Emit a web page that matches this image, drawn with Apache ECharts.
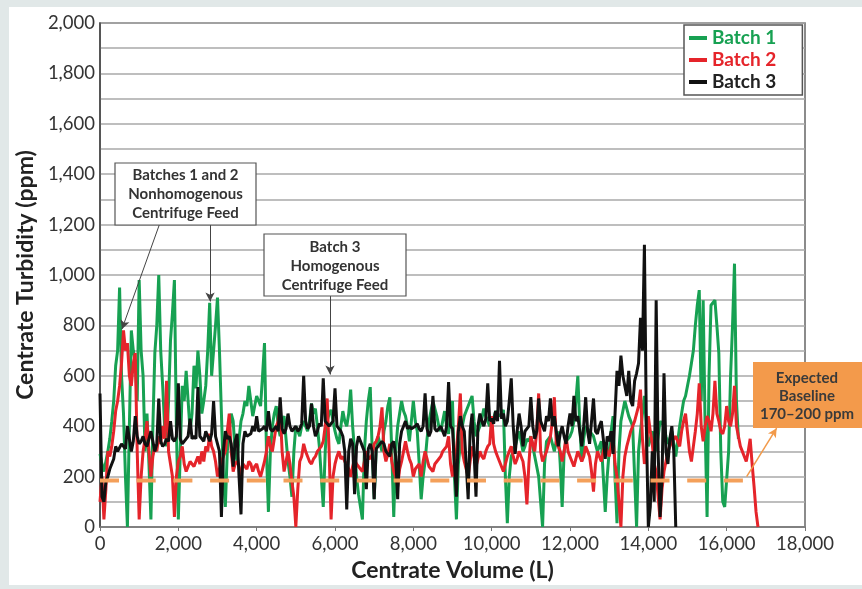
<!DOCTYPE html>
<html><head><meta charset="utf-8">
<script src="https://cdn.jsdelivr.net/npm/echarts@6/dist/echarts.min.js"></script>
<style>html,body{margin:0;padding:0;background:#e1e8e8;}#c{width:862px;height:589px;}</style>
</head><body><div id="c"></div>
<script>
// Centrate volume (L), one reading every 50 L
const volume = [
0,50,100,150,200,250,300,350,400,450,500,550,600,650,700,750,800,850,900,950,
1000,1050,1100,1150,1200,1250,1300,1350,1400,1450,1500,1550,1600,1650,1700,1750,1800,1850,1900,1950,
2000,2050,2100,2150,2200,2250,2300,2350,2400,2450,2500,2550,2600,2650,2700,2750,2800,2850,2900,2950,
3000,3050,3100,3150,3200,3250,3300,3350,3400,3450,3500,3550,3600,3650,3700,3750,3800,3850,3900,3950,
4000,4050,4100,4150,4200,4250,4300,4350,4400,4450,4500,4550,4600,4650,4700,4750,4800,4850,4900,4950,
5000,5050,5100,5150,5200,5250,5300,5350,5400,5450,5500,5550,5600,5650,5700,5750,5800,5850,5900,5950,
6000,6050,6100,6150,6200,6250,6300,6350,6400,6450,6500,6550,6600,6650,6700,6750,6800,6850,6900,6950,
7000,7050,7100,7150,7200,7250,7300,7350,7400,7450,7500,7550,7600,7650,7700,7750,7800,7850,7900,7950,
8000,8050,8100,8150,8200,8250,8300,8350,8400,8450,8500,8550,8600,8650,8700,8750,8800,8850,8900,8950,
9000,9050,9100,9150,9200,9250,9300,9350,9400,9450,9500,9550,9600,9650,9700,9750,9800,9850,9900,9950,
10000,10050,10100,10150,10200,10250,10300,10350,10400,10450,10500,10550,10600,10650,10700,10750,10800,10850,10900,10950,
11000,11050,11100,11150,11200,11250,11300,11350,11400,11450,11500,11550,11600,11650,11700,11750,11800,11850,11900,11950,
12000,12050,12100,12150,12200,12250,12300,12350,12400,12450,12500,12550,12600,12650,12700,12750,12800,12850,12900,12950,
13000,13050,13100,13150,13200,13250,13300,13350,13400,13450,13500,13550,13600,13650,13700,13750,13800,13850,13900,13950,
14000,14050,14100,14150,14200,14250,14300,14350,14400,14450,14500,14550,14600,14650,14700,14750,14800,14850,14900,14950,
15000,15050,15100,15150,15200,15250,15300,15350,15400,15450,15500,15550,15600,15650,15700,15750,15800,15850,15900,15950,
16000,16050,16100,16150,16200,16250,16300,16350,16400,16450,16500,16550,16600,16650,16700,16750,16800
];
// Centrate turbidity (ppm)
const batch1 = [
290,250,220,260,300,350,420,500,640,700,950,600,450,200,0,400,780,700,650,500,
980,700,600,300,450,250,30,400,690,800,1000,700,560,400,320,500,740,850,980,400,
30,300,560,500,620,500,380,450,640,550,700,600,450,500,560,700,890,600,600,800,
910,700,450,200,80,300,380,450,420,300,260,350,420,450,500,480,560,500,440,480,
520,500,480,600,730,300,60,300,400,450,480,400,360,420,440,350,260,200,120,300,
400,380,360,400,420,400,380,420,490,450,470,400,320,200,80,300,420,450,465,420,
380,350,330,400,460,420,400,450,545,400,300,200,130,80,30,300,420,500,555,300,
110,300,360,330,300,380,420,480,515,300,40,300,400,450,500,460,440,400,340,420,
500,420,380,250,110,200,260,350,420,460,500,470,440,400,380,420,460,400,370,450,
500,200,30,250,330,400,440,460,480,500,520,420,360,380,400,430,470,440,420,400,
400,430,460,450,440,450,465,200,15,200,280,300,320,350,380,340,300,320,350,340,
360,320,280,240,200,100,0,250,340,350,360,330,300,340,380,250,80,300,340,350,
360,380,420,500,600,400,260,350,400,390,380,370,360,330,300,320,340,200,60,200,
300,380,440,200,15,300,420,460,500,470,440,420,400,200,0,300,380,450,520,400,
320,350,380,340,300,360,420,410,400,360,330,350,380,330,280,340,400,450,500,520,
560,600,650,700,800,880,940,500,900,400,40,600,880,890,900,800,690,300,100,80,
80,300,600,800,1045,500,350
];
const batch2 = [
100,200,30,150,300,280,320,380,460,500,560,650,780,700,730,600,560,650,690,300,
30,200,300,350,420,300,200,280,320,300,360,330,400,350,580,300,250,200,40,200,
260,280,320,250,220,240,260,250,240,260,280,250,300,260,320,300,370,320,300,260,
200,230,260,280,300,380,450,300,220,250,260,240,200,250,240,230,260,250,220,240,
250,220,200,230,260,300,360,320,300,350,400,420,470,300,220,260,300,250,180,120,
0,150,260,280,330,300,280,260,250,270,280,300,300,320,340,400,510,300,30,200,
250,280,300,270,280,260,250,230,200,240,270,250,240,230,220,260,300,280,270,290,
330,340,360,400,475,300,260,290,330,260,220,200,160,230,260,300,340,300,270,250,
200,230,240,250,200,260,300,270,240,230,220,250,260,270,280,300,300,320,360,250,
200,260,300,400,530,300,260,230,200,260,320,280,240,270,300,280,270,300,320,330,
440,330,300,280,260,240,220,250,280,300,320,280,250,270,300,280,260,200,90,250,
360,330,300,380,530,300,260,280,300,330,360,420,515,330,320,300,260,300,360,300,
280,260,240,270,300,280,260,280,320,300,280,220,140,250,300,280,260,300,330,300,
280,320,360,250,200,100,0,200,280,320,350,380,380,420,420,480,545,350,250,300,
440,380,330,250,220,120,30,150,220,260,300,320,340,350,360,340,320,380,420,450,
450,300,260,320,380,450,570,400,340,400,440,420,380,450,580,450,420,380,370,400,
480,420,400,450,560,400,360,320,300,280,260,300,350,250,160,60,0
];
const batch3 = [
530,120,100,180,200,230,250,270,320,300,300,330,330,310,400,350,300,340,440,360,
330,340,360,330,320,350,380,340,300,330,510,340,320,330,350,340,420,350,340,360,
570,350,330,340,350,360,430,350,360,350,555,360,360,340,380,360,340,370,500,360,
360,300,40,300,380,350,360,330,240,340,370,200,50,330,380,360,360,370,400,380,
440,380,380,390,400,380,460,390,380,390,400,380,515,390,370,390,450,400,380,390,
400,380,390,410,600,420,390,400,490,400,360,380,410,400,590,420,420,400,410,420,
550,400,400,380,360,300,70,300,350,330,130,320,360,340,320,300,150,310,330,300,
110,310,320,330,340,330,300,290,280,330,340,280,110,330,380,400,420,390,400,390,
390,400,410,390,380,400,530,390,360,380,520,390,380,390,400,380,360,400,575,400,
390,250,120,380,440,400,380,250,110,380,450,300,120,400,450,420,400,430,570,420,
430,410,460,420,660,430,450,400,420,500,590,400,290,380,450,400,320,380,380,400,
515,400,350,380,510,420,400,380,440,420,510,400,440,380,320,370,400,360,330,400,
450,400,520,420,440,380,320,400,515,380,330,420,510,380,370,400,420,350,270,360,
340,380,290,450,620,560,680,600,560,520,620,500,480,580,610,650,830,700,1120,400,
0,80,300,100,900,300,40,200,610,300,250,350,400,300,0
];
// Expected baseline
const baselineVolume = [0, 16510];
const baselineValue = [185, 185];

const seriesNames = ['Batch 1', 'Batch 2', 'Batch 3'];
const xTickValues = [0,2000,4000,6000,8000,10000,12000,14000,16000,18000];
const xTickLabels = ['0','2,000','4,000','6,000','8,000','10,000','12,000','14,000','16,000','18,000'];
const yTickValues = [0,200,400,600,800,1000,1200,1400,1600,1800,2000];
const yTickLabels = ['0','200','400','600','800','1,000','1,200','1,400','1,600','1,800','2,000'];

// Annotation arrows: [fromVolume, fromTurbidity, toVolume, toTurbidity]
const arrows = [
  [1530, 1206, 560, 785],
  [2810, 1206, 2810, 895],
  [5872, 917, 5872, 605]
];
const baselineArrow = [16510, 200, 17276, 392];

const GREEN = '#17a152', RED = '#e5242a', BLACK = '#111111', ORANGE = '#f39a4b';
const FONT = 'Lato';

const pairs = (ys) => ys.map((y, i) => [volume[i], y]);
const noteStyle = (color) => ({ fontSize: 15, fontWeight: 'bold', fontFamily: FONT, color: color, lineHeight: 19 });

const chart = echarts.init(document.getElementById('c'));
chart.setOption({
  animation: false,
  backgroundColor: '#e1e8e8',
  textStyle: { fontFamily: FONT },
  grid: { left: 100, top: 23, right: 57, bottom: 62, show: true, borderColor: '#666', borderWidth: 1.5 },
  title: [
    { text: 'Batches 1 and 2\nNonhomogenous\nCentrifuge Feed', left: 185.5, top: 165.5, padding: 0, z: 10,
      textAlign: 'center', textStyle: noteStyle('#333') },
    { text: 'Batch 3\nHomogenous\nCentrifuge Feed', left: 335, top: 237.5, padding: 0, z: 10,
      textAlign: 'center', textStyle: noteStyle('#333') },
    { text: 'Expected\nBaseline\n170–200 ppm', left: 807, top: 369, padding: 0, z: 10,
      textAlign: 'center', textStyle: Object.assign(noteStyle('#3a3a3a'), { lineHeight: 18 }) }
  ],
  legend: {
    orient: 'vertical', left: 684, top: 25,
    padding: [2, 26, 2, 5], itemGap: 0,
    itemWidth: 18, itemHeight: 4, icon: 'rect',
    backgroundColor: '#fff', borderColor: '#555', borderWidth: 1.5,
    selectedMode: false,
    textStyle: { fontSize: 19, fontWeight: 'bold', fontFamily: FONT, lineHeight: 22 },
    data: [
      { name: seriesNames[0], textStyle: { color: GREEN } },
      { name: seriesNames[1], textStyle: { color: RED } },
      { name: seriesNames[2], textStyle: { color: '#222' } }
    ]
  },
  xAxis: {
    type: 'value', min: 0, max: 18000, interval: 2000,
    name: 'Centrate Volume (L)', nameLocation: 'middle', nameGap: 31,
    nameTextStyle: { fontSize: 23, fontWeight: 'bold', color: '#222', fontFamily: FONT },
    axisLine: { show: true, lineStyle: { color: '#777', width: 1.5 } },
    axisTick: { show: true, length: 4, lineStyle: { color: '#777' } },
    splitLine: { show: false },
    axisLabel: { fontSize: 18.5, color: '#333', margin: 8, fontFamily: FONT,
      formatter: v => { const k = xTickValues.indexOf(v); return k >= 0 ? xTickLabels[k] : ''; } }
  },
  yAxis: {
    type: 'value', min: 0, max: 2000, interval: 100,
    name: 'Centrate Turbidity (ppm)', nameLocation: 'middle', nameGap: 51,
    nameTextStyle: { fontSize: 23, fontWeight: 'bold', color: '#222', fontFamily: FONT },
    axisLine: { show: true, lineStyle: { color: '#444', width: 1.5 } },
    axisTick: { show: false },
    splitLine: { show: true, lineStyle: { color: '#a8a8a8', width: 1.5 } },
    axisLabel: { fontSize: 18.5, color: '#333', margin: 5, fontFamily: FONT,
      formatter: v => { const k = yTickValues.indexOf(v); return k >= 0 ? yTickLabels[k] : ''; } }
  },
  graphic: [
    { type: 'rect', z: -100, shape: { x: 9, y: 7, width: 860, height: 578 }, style: { fill: '#ffffff' } },
    { type: 'rect', z: 8, shape: { x: 115, y: 163, width: 141, height: 62 }, style: { fill: '#fff', stroke: '#555', lineWidth: 1.2 } },
    { type: 'rect', z: 8, shape: { x: 264, y: 234, width: 142, height: 62 }, style: { fill: '#fff', stroke: '#555', lineWidth: 1.2 } },
    { type: 'rect', z: 8, shape: { x: 753, y: 362, width: 112, height: 66 }, style: { fill: ORANGE } }
  ],
  series: [
    { name: seriesNames[0], type: 'line', data: pairs(batch1), symbol: 'none', lineStyle: { color: GREEN, width: 3 }, itemStyle: { color: GREEN }, z: 2 },
    { name: seriesNames[1], type: 'line', data: pairs(batch2), symbol: 'none', lineStyle: { color: RED, width: 3 }, itemStyle: { color: RED }, z: 3 },
    { name: seriesNames[2], type: 'line', data: pairs(batch3), symbol: 'none', lineStyle: { color: BLACK, width: 3 }, itemStyle: { color: BLACK }, z: 4 },
    { name: 'Expected Baseline', type: 'line', z: 5,
      data: baselineVolume.map((v, i) => [v, baselineValue[i]]), symbol: 'none',
      lineStyle: { color: '#f4a05a', width: 4, type: [19, 17.7] },
      markLine: {
        silent: true, symbol: ['none', 'arrow'], symbolSize: [7, 9], animation: false,
        label: { show: false },
        lineStyle: { color: '#444', width: 1, type: 'solid' },
        data: arrows.map(a => [{ coord: [a[0], a[1]] }, { coord: [a[2], a[3]] }]).concat([[
          { coord: [baselineArrow[0], baselineArrow[1]], lineStyle: { color: '#f29a4a', width: 1.5, type: 'solid' } },
          { coord: [baselineArrow[2], baselineArrow[3]] }
        ]])
      }
    }
  ]
});
</script></body></html>
